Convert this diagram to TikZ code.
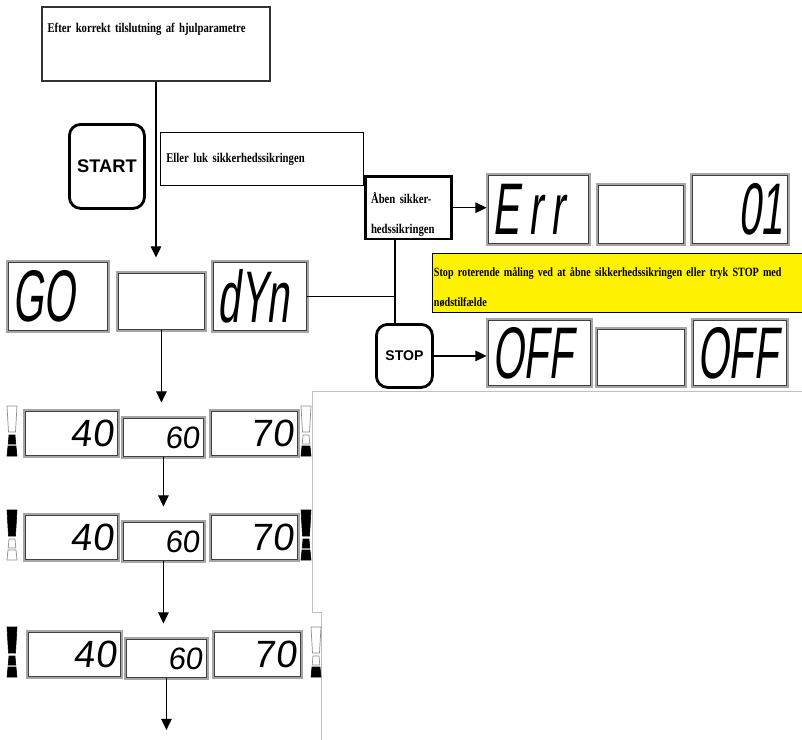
\documentclass[tikz,border=0pt]{standalone}
\usepackage{fontspec}
\setmainfont{Liberation Serif}
\newfontfamily\txtfont[FakeStretch=0.8]{Liberation Serif}
\newfontfamily\segfont[FakeSlant=0.12,FakeStretch=0.55]{Liberation Sans}
\newfontfamily\segrowfont[FakeSlant=0.12]{Liberation Sans}
\newfontfamily\knapfont{Liberation Sans}
\usetikzlibrary{arrows.meta, positioning, calc}
\newcommand{\pxu}{0.025cm}
\newcommand{\segbig}{\segfont\fontsize{52}{52}\selectfont}
\newcommand{\segrow}{\segrowfont\fontsize{27}{27}\selectfont}
\newcommand{\segmid}{\segrowfont\fontsize{22}{22}\selectfont}
\tikzset{
  tbox/.style = {draw=black, line width=1pt, fill=white, anchor=north west,
    font=\txtfont\bfseries\fontsize{9.5}{21}\selectfont,
    inner xsep=4pt, inner ysep=0pt, align=left},
  disp/.style = {draw=black!75, line width=0.6pt, fill=white,
    preaction={draw=black!35, line width=3.2pt}, anchor=north west,
    inner xsep=3pt, inner ysep=0pt},
  dsize/.style 2 args = {text width={#1*\pxu-6pt}, minimum height={#2*\pxu}},
  knap/.style = {draw=black, line width=2pt, rounded corners=8pt, fill=white,
    anchor=north west, inner sep=0pt},
  arr/.style = {-{Triangle[length=8pt,width=7.5pt]}, line width=1pt,
    shorten >=11pt},
  lin/.style = {line width=0.9pt},
  ramme/.style = {draw=black!25, line width=0.5pt},
  lit/.style = {fill=black, draw=black, line width=0.4pt},
  unlit/.style = {fill=white, draw=black!45, line width=0.5pt}
}
% lysbjaelke: x, bund, top/midt/bund
\newcommand{\ind}[5]{%
  \begin{scope}[shift={(#1,#2)}]
    \filldraw[#3] (-5,-50) -- (5,-50) -- (3.5,-24) -- (-3.5,-24) -- cycle;
    \filldraw[#4] (-3,-21) -- (3,-21) -- (3.8,-12) -- (-3.8,-12) -- cycle;
    \filldraw[#5] (-4,-10) -- (4,-10) -- (5,0) -- (-5,0) -- cycle;
  \end{scope}}

\begin{document}
\begin{tikzpicture}[x=\pxu, y=-\pxu]
  \useasboundingbox (0,0) rectangle (802,739);
  \draw[ramme] (312,391) -- (805,391);
  \draw[ramme] (312,391) -- (312,612) -- (321,612) -- (321,745);

  \node[tbox, line width=1.4pt, draw=black!80, text width={228*\pxu-8pt},
    text height=18pt, text depth=34.5pt] (top) at (41,6)
    {Efter korrekt tilslutning af hjulparametre};
  \node[knap, minimum width={75*\pxu}, minimum height={84*\pxu},
    font=\knapfont\bfseries\fontsize{13}{13}\selectfont] (start) at (68,123) {START};
  \node[tbox, text width={203*\pxu-8pt}, minimum height={53*\pxu}] (eller)
    at (160,132) {Eller luk sikkerhedssikringen};
  \node[tbox, line width=2pt, text width={86*\pxu-8pt}, text height=19.5pt,
    text depth=25pt] (aaben) at (364,175) {Åben sikker-\\hedssikringen};
  \node[tbox, fill=yellow, line width=0.8pt, inner xsep=1pt,
    font=\txtfont\bfseries\fontsize{9}{21}\selectfont, text width={390*\pxu-2pt},
    text height=16.5pt, text depth=25.3pt] (gul) at (432,253)
    {Stop roterende måling ved at åbne sikkerhedssikringen eller tryk STOP med\\nødstilfælde};

  % displays
  \node[disp, dsize={99}{68}, align=left, font=\segbig] (go) at (8,262) {GO};
  \node[disp, dsize={86}{56}] (gomid) at (118,273) {};
  \node[disp, dsize={93}{68}, align=left, font=\segbig] (dyn) at (213,262) {dYn};
  \node[disp, dsize={100}{68}, align=left, font=\segbig] (err) at (488,175)
    {\addfontfeature{LetterSpace=12}Err};
  \node[disp, dsize={85}{58}] (errmid) at (598,185) {};
  \node[disp, dsize={95}{68}, align=right, font=\segbig] (errnr) at (692,175) {01};
  \node[knap, minimum width={56*\pxu}, minimum height={63*\pxu},
    font=\knapfont\bfseries\fontsize{10}{10}\selectfont] (stop) at (375,323) {STOP};
  \node[disp, dsize={102}{65}, align=left, font=\segbig] (off) at (488,320) {OFF};
  \node[disp, dsize={87}{56}] (offmid) at (597,329) {};
  \node[disp, dsize={93}{65}, align=left, font=\segbig] (offr) at (693,320) {OFF};

  \foreach \r/\y/\dx/\rx/\La/\Lb/\Lc/\Ra/\Rb/\Rc in
    {1/411/0/306/unlit/lit/lit/unlit/unlit/lit,
     2/515/0/306/lit/unlit/unlit/lit/lit/lit,
     3/632/3/316/lit/lit/lit/unlit/unlit/lit} {
    \node[disp, dsize={92}{44}, align=right, font=\segrow] (l\r) at (25+\dx,\y) {40};
    \node[disp, dsize={80}{38}, align=right, font=\segmid] (m\r) at (123+\dx,\y+7) {60};
    \node[disp, dsize={86}{44}, align=right, font=\segrow] (h\r) at (211+\dx,\y) {70};
    \ind{12}{\y+45}{\La}{\Lb}{\Lc}
    \ind{\rx}{\y+45}{\Ra}{\Rb}{\Rc}
  }

  % forbindelser
  \coordinate (knude) at (395,293);
  \coordinate (ende) at (163,730);
  \draw[arr] (top.south) -- (top.south |- gomid.north);
  \draw[lin] (aaben.south -| knude) -- (stop.north -| knude);
  \draw[lin] (dyn.east) -- (dyn.east -| knude);
  \draw[arr, shorten >=1pt] (aaben.east) -- (aaben.east -| err.west);
  \draw[arr, shorten >=1pt] (stop.east) -- (stop.east -| off.west);
  \draw[arr] (gomid.south) -- (gomid.south |- m1.north);
  \draw[arr] (m1.south) -- (m1.south |- m2.north);
  \draw[arr] (m2.south) -- (m2.south |- m3.north);
  \draw[arr, shorten >=0pt] (m3.south) -- (m3.south |- ende);
\end{tikzpicture}
\end{document}
